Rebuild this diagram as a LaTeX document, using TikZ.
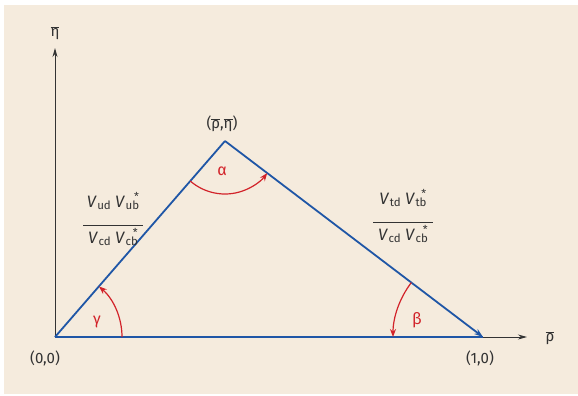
\documentclass[tikz,border=0pt]{standalone}
\usepackage{fontspec}
\setmainfont{Fira Sans}
\usetikzlibrary{arrows.meta,calc}
\definecolor{bg}{HTML}{F5EBDD}
\definecolor{tri}{HTML}{1F56A6}
\definecolor{ang}{HTML}{D2232A}
\definecolor{ink}{HTML}{333333}
\newcommand\ovl[1]{\ensuremath{\overline{\mbox{#1}}}}
\newcommand\cv[2]{\textit{V}\kern0.5pt\raisebox{-2.5pt}{\fontsize{11.5}{12}\selectfont #1}\llap{\raisebox{7pt}{\fontsize{11}{12}\selectfont #2}\kern0.3pt}}
\begin{document}
\begin{tikzpicture}[x=1pt,y=-1pt,
  lab/.style={text=ink,font=\fontsize{15}{17}\selectfont,inner sep=0pt},
  frac/.style={text=ink,font=\fontsize{16.5}{18}\selectfont,inner sep=0pt,align=center},
  glab/.style={text=ang,font=\fontsize{16}{18}\selectfont,inner sep=0pt},
  axis/.style={draw=ink,line width=0.9pt,-{Stealth[length=9pt,width=5pt]}},
  side/.style={draw=tri,line width=1.8pt},
  angarc/.style={draw=ang,line width=1.2pt,-{Stealth[length=8pt,width=6pt]}}]
\useasboundingbox (0,0) rectangle (578,396);
\fill[bg] (4,5) rectangle (578,394);
% points
\coordinate (o) at (55,337);
\coordinate (a) at (225,141);
\coordinate (b) at (483,337);
\coordinate (xend) at (527,337);
\coordinate (yend) at (55,48);
% axes
\draw[axis] (o) -- (xend);
\draw[axis] (o) -- (yend);
\node[lab] (rho) at (550,338) {\ovl{ρ}};
\node[lab] (eta) at (55,33) {\ovl{η}};
% triangle
\draw[side] (o) -- (b);
\draw[side] (o) -- (a);
\draw[side,-{Stealth[length=9pt,width=6pt]}] (a) -- (b);
% vertex labels
\node[lab] (l00) at (45,358) {(0,0)};
\node[lab] (l10) at (480,358) {(1,0)};
\node[lab] (lap) at (222,124) {(\ovl{ρ},\ovl{η})};
% side labels
\node[frac] (fl) at (113,219) {\cv{ud}{} \cv{ub}{*}\\[1pt]\rule{60pt}{0.8pt}\\[-1pt]\cv{cd}{} \cv{cb}{*}};
\node[frac] (fr) at (403,216) {\cv{td}{} \cv{tb}{*}\\[1pt]\rule{60pt}{0.8pt}\\[-1pt]\cv{cd}{} \cv{cb}{*}};
% angles
\draw[angarc] ($(o)+(67,0)$) arc[start angle=0,end angle=-49,radius=67];
\draw[angarc] ($(a)+(131:53)$) arc[start angle=131,end angle=37.2,radius=53];
\draw[angarc] ($(b)+(-142.8:90)$) arc[start angle=-142.8,end angle=-180,radius=90];
\node[glab] (gam) at (97,322) {γ};
\node[glab] (alp) at (222,171) {α};
\node[glab] (bet) at (417,320) {β};
\end{tikzpicture}
\end{document}
